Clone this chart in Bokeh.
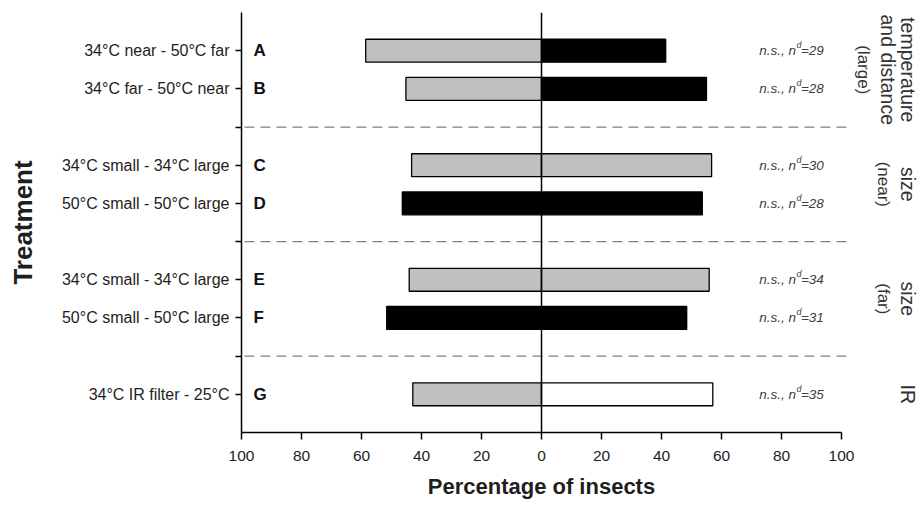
import math
from bokeh.plotting import figure
from bokeh.models import Range1d, FixedTicker, Title, ColumnDataSource
from bokeh.core.properties import value
from bokeh.embed import file_html
from bokeh.resources import INLINE

# ---------------- data ----------------
treatments = ["34°C near - 50°C far", "34°C far - 50°C near",
              "34°C small - 34°C large", "50°C small - 50°C large",
              "34°C small - 34°C large", "50°C small - 50°C large",
              "34°C IR filter - 25°C"]
letters = ["A", "B", "C", "D", "E", "F", "G"]
left_pct = [58.6, 45.2, 43.3, 46.4, 44.1, 51.6, 42.9]
right_pct = [41.4, 55.0, 56.7, 53.6, 55.9, 48.4, 57.1]
n_values = [29, 28, 30, 28, 34, 31, 35]
group_sizes = [2, 2, 2, 1]
group_labels = [["temperature", "and distance", "(large)"],
                ["size", "(near)"],
                ["size", "(far)"],
                ["IR"]]
x_ticks = [-100, -80, -60, -40, -20, 0, 20, 40, 60, 80, 100]
x_title = "Percentage of insects"
y_title = "Treatment"

# ---------------- styles ----------------
GRAY = "#c0c0c0"
left_fill = [GRAY, GRAY, GRAY, "black", GRAY, "black", GRAY]
right_fill = ["black", "black", GRAY, "black", GRAY, "black", "white"]
FONT = "Liberation Sans"
TXT = "#1e1e1e"

# ---------------- layout from group structure ----------------
slots, separators, group_centers = [], [], []
pos = 0
for gi, size in enumerate(group_sizes):
    members = []
    for _ in range(size):
        pos += 1
        slots.append(pos)
        members.append(pos)
    group_centers.append(sum(members) / len(members))
    if gi < len(group_sizes) - 1:
        pos += 1
        separators.append(pos)
y_max = pos + 1

W = 920
p = figure(width=W, height=507, output_backend="svg", toolbar_location=None,
           x_range=Range1d(-100, (W - 541) / 3.0), y_range=Range1d(y_max, 0),
           min_border_left=241, min_border_right=0, min_border_top=12,
           min_border_bottom=75)
p.outline_line_color = None
p.xgrid.visible = False
p.ygrid.visible = False
p.background_fill_color = "white"
p.border_fill_color = "white"

src = ColumnDataSource(dict(y=slots, left=[-v for v in left_pct], right=right_pct,
                            lf=left_fill, rf=right_fill, letter=letters,
                            ntxt=["=%d" % n for n in n_values]))

p.hbar(y="y", left="left", right=0, height=0.6, fill_color="lf",
       line_color="black", line_width=1.3, source=src)
p.hbar(y="y", left=0, right="right", height=0.6, fill_color="rf",
       line_color="black", line_width=1.3, source=src)

# separators
p.segment(x0=-99, x1=102.7, y0=separators, y1=separators, line_color="#7f7f7f",
          line_width=1.3, line_dash="10 6")

# zero line
p.segment(x0=[0], x1=[0], y0=[0], y1=[y_max], line_color="black", line_width=1.5)

# letters
p.text(x=-96, y="y", text="letter", source=src, text_font=value(FONT),
       text_font_style="bold", text_font_size="17px", text_align="left",
       text_baseline="middle", text_color="#111111")

# n.s. annotations
NX = 84.8
p.text(x=NX, y="y", text=value("n.s., n"), source=src, text_font=value(FONT),
       text_font_style="italic", text_font_size="13.5px", text_align="right",
       text_baseline="middle", text_color="#404040")
p.text(x=NX, y="y", text=value("d"), source=src, text_font=value(FONT),
       text_font_style="italic", text_font_size="9px", text_align="left",
       text_baseline="middle", text_color="#404040", x_offset=0.5, y_offset=-5.5)
p.text(x=NX, y="y", text="ntxt", source=src, text_font=value(FONT),
       text_font_style="italic", text_font_size="13.5px", text_align="left",
       text_baseline="middle", text_color="#404040", x_offset=5)

# group labels on the right (rotated, reading downward)
for lines, yc in zip(group_labels, group_centers):
    for i, t in enumerate(lines):
        paren = t.startswith("(")
        x = 122.3 - 6.7 * i - (1.5 if paren else 0)
        p.text(x=[x], y=[yc], text=[t], angle=-math.pi / 2,
               text_font=value(FONT), text_font_size="17px" if paren else "19.5px",
               text_align="center", text_baseline="middle", text_color="#333333")

# axes
xa = p.xaxis[0]
xa.ticker = FixedTicker(ticks=x_ticks)
xa.major_label_overrides = {t: str(abs(t)) for t in x_ticks}
xa.bounds = (-100, 100)
xa.minor_tick_line_color = None
xa.major_tick_in = 0
xa.major_tick_out = 7
xa.axis_line_width = 1.5
xa.major_tick_line_width = 1.5
xa.major_label_text_font = FONT
xa.major_label_text_font_size = "15.5px"
xa.major_label_text_color = TXT
xa.major_label_standoff = 11

ya = p.yaxis[0]
ya.ticker = FixedTicker(ticks=slots + separators)
overrides = {s: t for s, t in zip(slots, treatments)}
overrides.update({s: "" for s in separators})
ya.major_label_overrides = overrides
ya.minor_tick_line_color = None
ya.major_tick_in = 0
ya.major_tick_out = 6
ya.axis_line_width = 1.5
ya.major_tick_line_width = 1.3
ya.major_label_text_font = FONT
ya.major_label_text_font_size = "16px"
ya.major_label_text_color = TXT
ya.major_label_standoff = 6
ya.axis_label = y_title
ya.axis_label_text_font = FONT
ya.axis_label_text_font_style = "bold"
ya.axis_label_text_font_size = "26px"
ya.axis_label_text_color = TXT
ya.axis_label_standoff = 21

# x title centred on zero
XT_SIZE = 22
xt_width = 10.34 * XT_SIZE
p.add_layout(Title(text=x_title, align="left", offset=300 - xt_width / 2,
                   text_font=FONT, text_font_style="bold",
                   text_font_size="%dpx" % XT_SIZE, text_color=TXT, standoff=16), "below")

open("out.html", "w").write(file_html(p, INLINE))
